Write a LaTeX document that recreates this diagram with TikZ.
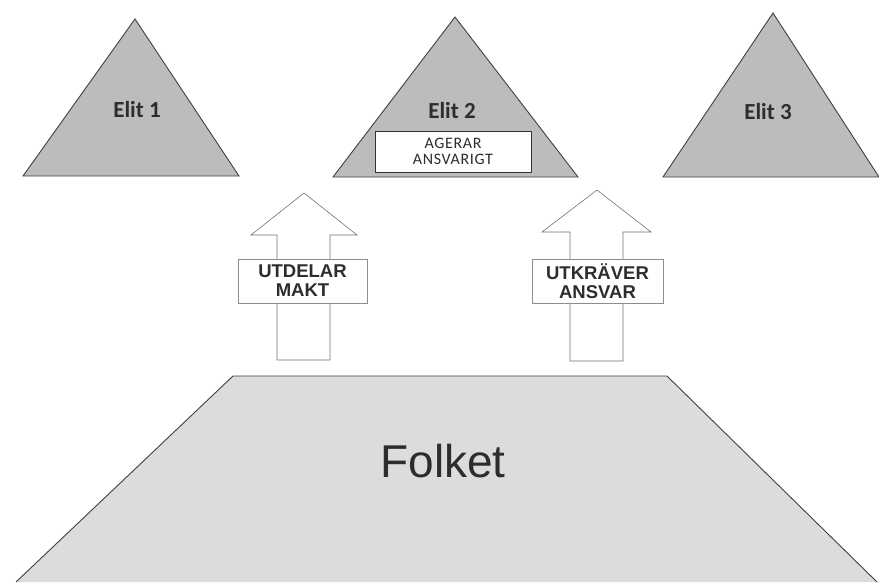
\documentclass[tikz,border=0pt]{standalone}
\usepackage{fontspec}
\setmainfont{Liberation Sans}
\newfontfamily\elitfont{Carlito}
\definecolor{elitgray}{RGB}{188,188,188}
\definecolor{folkgray}{RGB}{220,220,220}
\definecolor{textgray}{RGB}{45,45,45}

\begin{document}
\begin{tikzpicture}[x=1pt, y=-1pt,
    elit/.style={draw=black!75, fill=elitgray, line width=0.9pt},
    elitlabel/.style={font=\elitfont\bfseries\fontsize{23}{24}\selectfont},
    pil/.style={draw=black!55, fill=white, line width=0.6pt},
    pilbox/.style={draw=black!45, fill=white, line width=0.6pt, minimum width=129pt, minimum height=44pt, align=center, inner sep=0pt, font=\bfseries\fontsize{18.5}{19}\selectfont, text=textgray},
    every node/.style={text=textgray}]
    \useasboundingbox (0,0) rectangle (879,582);

    % The three elite triangles
    \draw[elit] (135,19) -- (239,176) -- (23,176) -- cycle;
    \draw[elit] (455,17) -- (578,177) -- (333,177) -- cycle;
    \draw[elit] (773,13) -- (879,177) -- (663,177) -- cycle;
    \node[elitlabel] (elit1) at (137,110) {Elit 1};
    \node[elitlabel] (elit2) at (452,111) {Elit 2};
    \node[elitlabel] (elit3) at (768,112) {Elit 3};

    % Box inside Elit 2
    \node[draw=black!80, fill=white, line width=0.7pt, minimum width=156pt, minimum height=41pt,
          inner sep=0pt, align=center, font=\elitfont\addfontfeature{LetterSpace=4}\fontsize{16}{16.5}\selectfont]
          (agerar) at (453,151.5) {AGERAR\\ANSVARIGT};

    % The people at the bottom
    \draw[draw=black!75, fill=folkgray, line width=0.9pt] (16,582) -- (233,376) -- (667,376) -- (877,582);
    \node (folket) at (443,461) {\fontsize{46}{48}\selectfont Folket};

    % Arrow: power handed upwards
    \draw[pil] (304,193) -- (357,235) -- (330,235) -- (330,360) -- (277,360) -- (277,235) -- (251,235) -- cycle;
    \node[pilbox] (utdelar) at (302.5,281) {UTDELAR\\MAKT};

    % Arrow: accountability demanded
    \draw[pil] (597,190) -- (651,232) -- (623,232) -- (623,361) -- (570,361) -- (570,232) -- (542,232) -- cycle;
    \node[pilbox, minimum width=131pt] (utkraver) at (597.5,281) {UTKRÄVER\\ANSVAR};
\end{tikzpicture}
\end{document}
